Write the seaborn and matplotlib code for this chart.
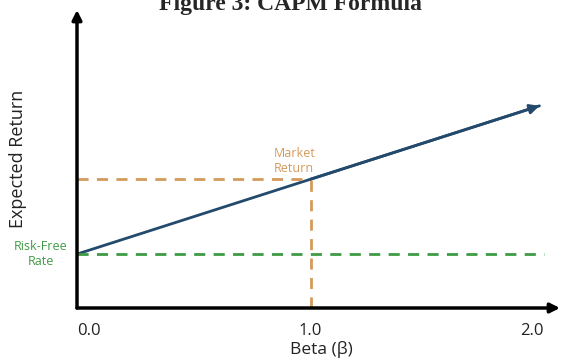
import matplotlib
matplotlib.use("Agg")
import matplotlib.pyplot as plt
import pandas as pd
import seaborn as sns

# values (arbitrary return units)
beta_line = [0.0, 1.0, 1.98]
return_line = [3.6, 8.6, 13.5]
risk_free = 3.6
market_return = 8.6
market_beta = 1.0
beta_max = 2.0
xtick_vals = [0.0, 1.0, 2.0]
xtick_labels = ["0.0", "1.0", "2.0"]

navy = "#234a6c"
orange = "#d49a5c"
green = "#3f9a44"

sns.set_theme(style="white")
plt.rcParams["font.family"] = ["Open Sans", "DejaVu Sans"]

fig = plt.figure(figsize=(5.64, 3.6), dpi=100)
ax = fig.add_axes([77 / 564, 52 / 360, 483 / 564, 298 / 360])

df = pd.DataFrame({"beta": beta_line, "ret": return_line})
sns.lineplot(data=df, x="beta", y="ret", color=navy, lw=2, ax=ax)
# arrow head on the security market line
ax.annotate("", xy=(beta_line[-1], return_line[-1]), xytext=(beta_line[-2], return_line[-2]),
            arrowprops=dict(arrowstyle="-|>", color=navy, lw=2, mutation_scale=14,
                            shrinkA=0, shrinkB=0))

# risk-free rate
sns.lineplot(x=[0, beta_max], y=[risk_free, risk_free], color=green, lw=2,
             ax=ax, linestyle=(0, (4, 3)))
# market return guides
sns.lineplot(x=[0, market_beta], y=[market_return, market_return], color=orange, lw=2,
             ax=ax, linestyle=(0, (4, 3)))
sns.lineplot(x=[market_beta, market_beta], y=[0, market_return], color=orange, lw=2,
             ax=ax, linestyle=(0, (4, 3)), estimator=None, sort=False)

ax.set_xlim(0, 2.068)
ax.set_ylim(0, 19.9)

for s in ax.spines.values():
    s.set_visible(False)
ax.annotate("", xy=(1, 0), xytext=(0, 0), xycoords="axes fraction",
            arrowprops=dict(arrowstyle="-|>", color="black", lw=2.5, mutation_scale=14,
                            shrinkA=0, shrinkB=0))
ax.annotate("", xy=(0, 1), xytext=(0, 0), xycoords="axes fraction",
            arrowprops=dict(arrowstyle="-|>", color="black", lw=2.5, mutation_scale=14,
                            shrinkA=0, shrinkB=0))

ax.set_xticks(xtick_vals)
ax.set_xticklabels(xtick_labels, fontsize=12, color="#222222")
labels = ax.get_xticklabels()
labels[0].set_ha("left")
labels[2].set_ha("right")
ax.tick_params(axis="x", length=0, pad=11)
ax.set_yticks([])

ax.set_xlabel("Beta (β)", fontsize=12.5, color="#222222")
ax.xaxis.set_label_coords(0.505, -0.112)
ax.set_ylabel("Expected Return", fontsize=13, color="#222222", labelpad=36)

ax.text(-0.155, risk_free, "Risk-Free\nRate", color=green, fontsize=9,
        ha="center", va="center", linespacing=1.2)
ax.text(0.93, market_return + 0.3, "Market\nReturn", color=orange, fontsize=9,
        ha="center", va="bottom", linespacing=1.2)

fig.text(0.515, 350 / 360, "Figure 3: CAPM Formula", fontsize=17, fontweight="bold",
         family="Liberation Serif", ha="center", va="baseline")

fig.savefig("out.png", dpi=100)
